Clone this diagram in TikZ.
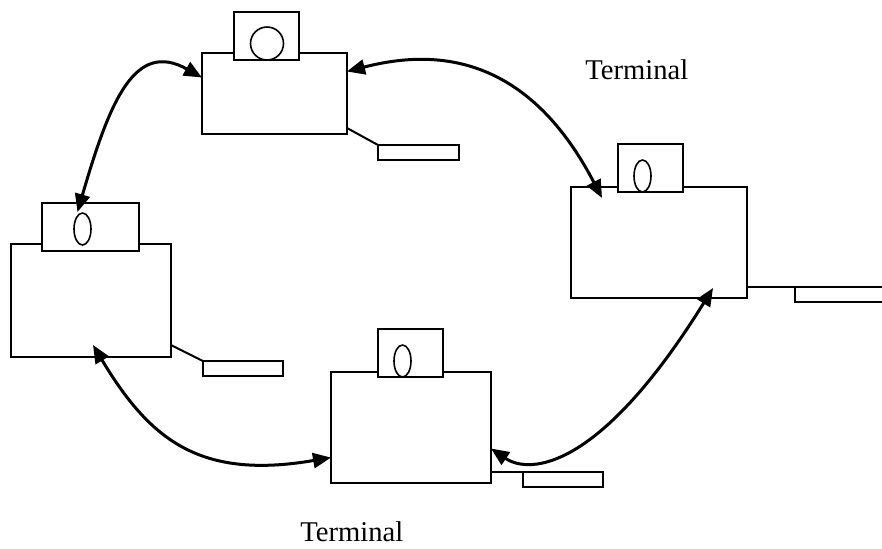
\documentclass[tikz,border=0pt]{standalone}
\usepackage{fontspec}
\setmainfont{Liberation Serif}
\usepackage{tikz}
\usetikzlibrary{arrows.meta,shapes.geometric}

\begin{document}
\begin{tikzpicture}[x=0.5pt,y=-0.5pt,
  station/.style={rectangle,draw,fill=white,line width=1pt,inner sep=0pt,outer sep=0pt,anchor=north west},
  cam/.style={rectangle,draw,fill=white,line width=1pt,inner sep=0pt,outer sep=0pt,minimum height=24pt,anchor=north west},
  lens/.style={ellipse,draw,line width=0.8pt,inner sep=0pt,outer sep=0pt,minimum width=8.5pt,minimum height=16pt},
  kbd/.style={rectangle,draw,fill=white,line width=1pt,inner sep=0pt,outer sep=0pt,minimum height=7.5pt,anchor=north west},
  wire/.style={line width=1pt},
  link/.style={{Triangle[length=9pt,width=7.5pt]}-{Triangle[length=9pt,width=7.5pt]},line width=1.5pt},
  termtext/.style={font=\fontsize{14.3}{16}\selectfont,inner sep=0pt,anchor=base west}
]
\clip (0,0) rectangle (882,548);
% top terminal
\node[station,minimum width=72.5pt,minimum height=40.5pt] (t1) at (202,53) {};
\node[cam,minimum width=32.5pt] (c1) at (234,12) {};
\node[circle,draw,line width=0.8pt,inner sep=0pt,minimum size=16.5pt] (l1) at (267,43.5) {};
\node[kbd,minimum width=40.5pt] (k1) at (378,145) {};
\draw[wire] ([shift={(0,-6)}]t1.south east) -- (k1.north west);
% right terminal
\node[station,minimum width=88pt,minimum height=55.5pt] (t2) at (571,187) {};
\node[cam,minimum width=32.5pt] (c2) at (618,144) {};
\node[lens] (l2) at (642.5,176) {};
\node[kbd,minimum width=50pt] (k2) at (795,287) {};
\draw[wire] ([shift={(0,-11)}]t2.south east) -- (k2.north west);
% left terminal
\node[station,minimum width=80pt,minimum height=56.5pt] (t3) at (11,244) {};
\node[cam,minimum width=48.5pt] (c3) at (42,203) {};
\node[lens] (l3) at (82.5,229) {};
\node[kbd,minimum width=40pt] (k3) at (203,361) {};
\draw[wire] ([shift={(0,-12)}]t3.south east) -- (k3.north west);
% bottom terminal
\node[station,minimum width=80pt,minimum height=55.5pt] (t4) at (331,372) {};
\node[cam,minimum width=32.5pt] (c4) at (378,329) {};
\node[lens] (l4) at (402.5,361) {};
\node[kbd,minimum width=40pt] (k4) at (523,472) {};
\draw[wire] ([shift={(0,-11)}]t4.south east) -- (k4.north west);
% links
\draw[link] ([shift={(-5,-1)}]l3.north) .. controls (110,100) and (135,40) .. ([shift={(0,-16)}]t1.west);
\draw[link] ([shift={(0,-22)}]t1.east) .. controls (430,50) and (525,50) .. ([shift={(31,11)}]t2.north west);
\draw[link] ([shift={(0,21)}]t4.east) .. controls (530,475) and (600,470) .. ([shift={(-34,-10)}]t2.south east);
\draw[link] ([shift={(82,-12)}]t3.south west) .. controls (150,440) and (200,480) .. ([shift={(0,30)}]t4.west);
% captions
\node[termtext] (n1) at (585,79) {Terminal};
\node[termtext] (n2) at (300,541) {Terminal};
\end{tikzpicture}
\end{document}
